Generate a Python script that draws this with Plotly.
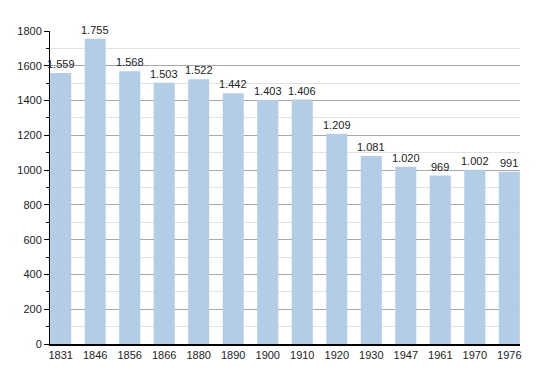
import plotly.graph_objects as go

years = ["1831", "1846", "1856", "1866", "1880", "1890", "1900", "1910", "1920", "1930", "1947", "1961", "1970", "1976"]
population = [1559, 1755, 1568, 1503, 1522, 1442, 1403, 1406, 1209, 1081, 1020, 969, 1002, 991]
y_ticks = [0, 200, 400, 600, 800, 1000, 1200, 1400, 1600, 1800]

def fmt(v):
    return f"{v:,}".replace(",", ".")

labels = [fmt(v) for v in population]
xpos = list(range(len(years)))
FONT = "Liberation Sans, Arial, sans-serif"

fig = go.Figure()
fig.add_trace(go.Bar(
    x=xpos, y=population, width=0.61,
    marker=dict(color="#b3cde6", line=dict(width=0)),
    hoverinfo="skip",
))

for xp, v, lab in zip(xpos, population, labels):
    fig.add_annotation(
        x=xp, y=v, text=lab, showarrow=False,
        xanchor="center", yanchor="bottom", yshift=1,
        font=dict(family=FONT, size=11, color="#222"),
    )

fig.update_layout(
    width=550, height=373,
    margin=dict(l=42, r=38, t=23, b=37),
    paper_bgcolor="white", plot_bgcolor="white",
    showlegend=False,
    font=dict(family=FONT, size=11, color="#222"),
)
fig.update_xaxes(
    range=[-0.31, 13.31], tickvals=xpos, ticktext=years,
    showline=True, linecolor="black", linewidth=1.5,
    showgrid=False, ticks="", ticklen=0, tickfont=dict(size=11),
    automargin=False, ticklabelstandoff=0,
)
fig.update_yaxes(
    range=[0, 1800], tickvals=y_ticks, ticktext=[str(t) for t in y_ticks],
    showline=True, linecolor="black", linewidth=1,
    showgrid=True, gridcolor="#a8a8a8", gridwidth=1,
    ticks="outside", ticklen=5, tickcolor="black",
    minor=dict(dtick=100, showgrid=True, gridcolor="#e2e2e2", ticks="outside", ticklen=3, tickcolor="black"),
    zeroline=False, tickfont=dict(size=11), automargin=False,
)

fig.write_html("out.html")
